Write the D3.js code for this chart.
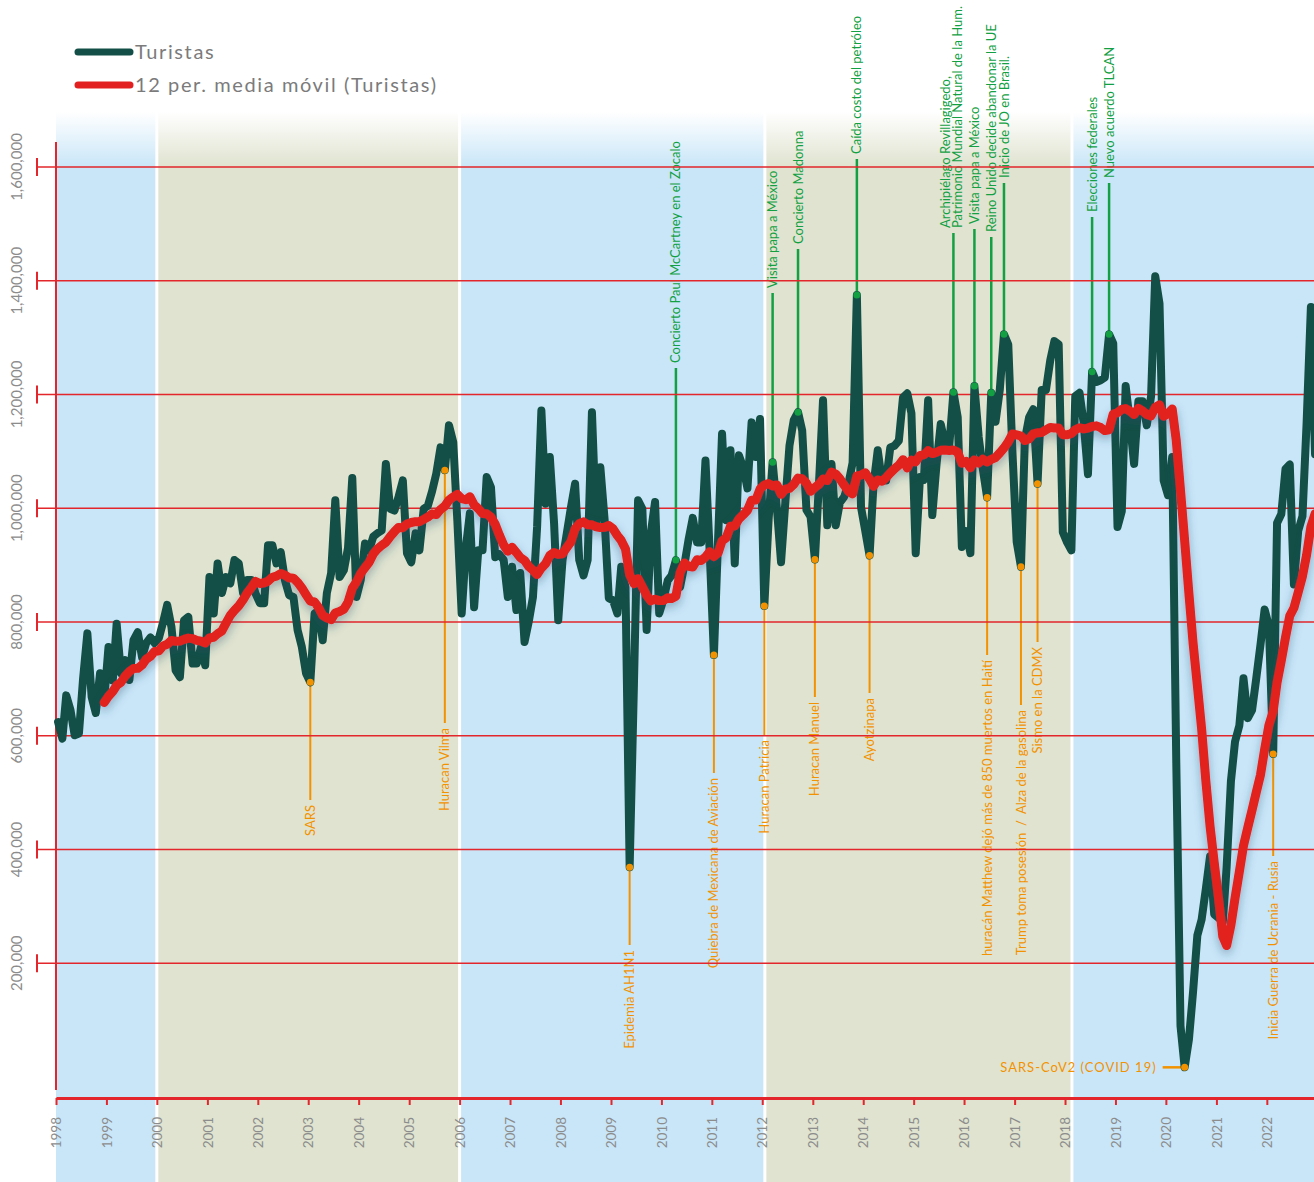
<!DOCTYPE html>
<html>
<head>
<meta charset="utf-8">
<script src="https://cdn.jsdelivr.net/npm/d3@7"></script>
<style>
  body { margin: 0; background: #fff; }
  svg { display: block; font-family: Lato, "Open Sans", sans-serif; }
</style>
</head>
<body>
<svg id="chart" width="1314" height="1182"></svg>
<script>
// ---- data (miles de turistas por mes, ene 1998 - dic 2022) ----
var startMonth = "1998-01";
var turistas = [
  624, 595, 671, 645, 601, 604, 700, 780, 668, 640, 710, 663,      // 1998
  756, 697, 797, 710, 733, 698, 768, 782, 738, 763, 773, 763,      // 1999
  772, 800, 830, 791, 715, 703, 803, 809, 727, 727, 756, 724,      // 2000
  879, 815, 903, 851, 879, 868, 909, 903, 851, 874, 874, 850,      // 2001
  833, 833, 935, 935, 903, 923, 874, 847, 844, 786, 756, 710,      // 2002
  694, 815, 820, 768, 851, 886, 1014, 879, 891, 930, 1053, 844,    // 2003
  874, 938, 926, 950, 956, 961, 1078, 999, 996, 1020, 1049, 921,   // 2004
  905, 956, 926, 999, 1004, 1030, 1061, 1107, 1067, 1146, 1116, 976, // 2005
  815, 932, 991, 826, 926, 926, 1055, 1037, 914, 919, 909, 844,    // 2006
  897, 821, 886, 765, 800, 844, 967, 1172, 1008, 1090, 973, 803,   // 2007
  909, 956, 1000, 1043, 909, 882, 909, 1169, 967, 1072, 979, 842,  // 2008
  838, 815, 897, 861, 369, 690, 1014, 999, 786, 956, 1011, 815,    // 2009
  840, 873, 882, 909, 861, 900, 944, 983, 940, 940, 1084, 926,     // 2010
  742, 950, 1131, 979, 1102, 903, 1093, 1072, 1035, 1151, 1090, 1157, // 2011
  828, 980, 1081, 1000, 905, 1010, 1110, 1155, 1169, 1137, 997, 985,  // 2012
  910, 1050, 1190, 970, 1078, 970, 1010, 1020, 1043, 1080, 1375, 1002, // 2013
  960, 917, 1040, 1102, 1049, 1049, 1107, 1110, 1119, 1195, 1202, 1167, // 2014
  921, 1055, 1050, 1190, 988, 1078, 1148, 1114, 1110, 1204, 1160, 932,  // 2015
  960, 921, 1215, 1125, 1069, 1019, 1203, 1152, 1209, 1306, 1288, 1100, // 2016
  941, 897, 1120, 1160, 1174, 1043, 1208, 1208, 1260, 1294, 1288, 958,  // 2017
  940, 926, 1197, 1203, 1150, 1060, 1240, 1222, 1225, 1230, 1306, 1290, // 2018
  967, 995, 1215, 1150, 1078, 1188, 1188, 1146, 1197, 1408, 1360, 1049, // 2019
  1023, 1090, 560, 90, 17, 66, 150, 249, 277, 330, 388, 286,       // 2020
  280, 272, 369, 520, 590, 618, 701, 631, 645, 700, 760, 822,      // 2021
  793, 568, 974, 990, 1069, 1077, 866, 960, 986, 1150, 1354, 1095  // 2022
];
var yTicks = [200000, 400000, 600000, 800000, 1000000, 1200000, 1400000, 1600000];
var bandBreaks = ["1998-01-01", "2000-01-01", "2006-01-01", "2012-01-20", "2018-02-20", "2023-01-01"];
var bandColors = ["#c9e6f8", "#dfe3cf", "#c9e6f8", "#dfe3cf", "#c9e6f8"];

// eventos arriba (verde) y abajo (naranja)
var eventsTop = [
  { month: "2010-04", text: ["Concierto Paul McCartney en el Zocalo"] },
  { month: "2012-03", text: ["Visita papa a México"] },
  { month: "2012-09", text: ["Concierto Madonna"] },
  { month: "2013-11", text: ["Caída costo del petróleo"] },
  { month: "2015-10", text: ["Archipiélago Revillagigedo,", "Patrimonio Mundial Natural de la Hum."] },
  { month: "2016-03", text: ["Visita papa a México"] },
  { month: "2016-07", text: ["Reino Unido decide abandonar la UE"] },
  { month: "2016-10", text: ["Inicio de JO en Brasil."] },
  { month: "2018-07", text: ["Elecciones federales"] },
  { month: "2018-11", text: ["Nuevo acuerdo TLCAN"] }
];
var eventsBottom = [
  { month: "2003-01", text: "SARS" },
  { month: "2005-09", text: "Huracan Vilma" },
  { month: "2009-05", text: "Epidemia AH1N1" },
  { month: "2011-01", text: "Quiebra de Mexicana de Aviación" },
  { month: "2012-01", text: "Huracan Patricia" },
  { month: "2013-01", text: "Huracan Manuel" },
  { month: "2014-02", text: "Ayotzinapa" },
  { month: "2016-06", text: "huracán Matthew dejó más de 850 muertos en Haití" },
  { month: "2017-02", text: "Trump toma posesión  /  Alza de la gasolina" },
  { month: "2017-06", text: "Sismo en la CDMX" },
  { month: "2022-02", text: "Inicia Guerra de Ucrania - Rusia" }
];
var eventCovid = { month: "2020-05", text: "SARS-CoV2 (COVID 19)" };

// ---- layout ----
var width = 1314, height = 1182;
var left = 56, axisY = 1098, bandTop = 112;
var topLabelY = [368, 293, 249, 159, 233, 229, 237, 183, 217, 183];      // fin de la guía
var bottomLabelY = [800, 723, 945, 773, 735, 697, 693, 655, 705, 642, 856];
var green = "#12a043", orange = "#f39200", gridRed = "#e2262b";

var parseMonth = d3.timeParse("%Y-%m");
var parseDay = d3.timeParse("%Y-%m-%d");
var t0 = parseMonth(startMonth);
var midMonth = function (d) { return d3.timeDay.offset(d, 15); };

var data = turistas.map(function (v, i) {
  return { date: midMonth(d3.timeMonth.offset(t0, i)), value: v * 1000 };
});
// media movil de 12 periodos
var ma = [];
for (var i = 11; i < data.length; i++) {
  ma.push({ date: data[i].date, value: d3.mean(data.slice(i - 11, i + 1), function (d) { return d.value; }) });
}

var x = d3.scaleTime()
  .domain([parseDay("1998-01-01"), parseDay("2023-01-01")])
  .range([left, left + 25 * 50.45]);
var y = d3.scaleLinear().domain([0, 1600000]).range([1077, 167]);

var svg = d3.select("#chart");
var defs = svg.append("defs");
var fade = defs.append("linearGradient").attr("id", "fade").attr("x1", 0).attr("x2", 0).attr("y1", 0).attr("y2", 1);
fade.append("stop").attr("offset", "0%").attr("stop-color", "#fff").attr("stop-opacity", 1);
fade.append("stop").attr("offset", "100%").attr("stop-color", "#fff").attr("stop-opacity", 0);
defs.append("filter").attr("id", "shadow").attr("x", "-10%").attr("y", "-10%").attr("width", "120%").attr("height", "130%")
  .append("feDropShadow").attr("dx", 0).attr("dy", 4).attr("stdDeviation", 5)
  .attr("flood-color", "#2c4a6a").attr("flood-opacity", 0.4);

// bandas de fondo
var bands = d3.range(bandColors.length).map(function (i) {
  return { x0: x(parseDay(bandBreaks[i])), x1: x(parseDay(bandBreaks[i + 1])), color: bandColors[i] };
});
svg.append("g").selectAll("rect").data(bands).enter().append("rect")
  .attr("x", function (d) { return d.x0; })
  .attr("y", bandTop)
  .attr("width", function (d) { return d.x1 - d.x0; })
  .attr("height", height - bandTop)
  .attr("fill", function (d) { return d.color; });
svg.append("rect").attr("x", left).attr("y", bandTop).attr("width", width - left).attr("height", 55).attr("fill", "url(#fade)");
svg.append("g").selectAll("line").data(bands.slice(1)).enter().append("line")
  .attr("x1", function (d) { return d.x0; }).attr("x2", function (d) { return d.x0; })
  .attr("y1", bandTop).attr("y2", height)
  .attr("stroke", "#fff").attr("stroke-width", 3);

// anotaciones
function valueAt(m) { return turistas[d3.timeMonth.count(t0, parseMonth(m))] * 1000; }
function xAt(m) { return x(midMonth(parseMonth(m))); }

var ann = svg.append("g").attr("font-size", 13);
eventsTop.forEach(function (e, i) {
  var ex = xAt(e.month), ey = y(valueAt(e.month)), ly = topLabelY[i];
  ann.append("line").attr("x1", ex).attr("x2", ex).attr("y1", ey).attr("y2", ly)
    .attr("stroke", green).attr("stroke-width", 2.5);
  var n = e.text.length;
  e.text.forEach(function (t, k) {
    ann.append("text")
      .attr("transform", "translate(" + ex + "," + (ly - 5) + ") rotate(-90)")
      .attr("dy", (0.35 + (k - (n - 1) / 2) * 0.9 - (n - 1) * 0.15) + "em")
      .attr("fill", green)
      .text(t);
  });
});
eventsBottom.forEach(function (e, i) {
  var ex = xAt(e.month), ey = y(valueAt(e.month)), ly = bottomLabelY[i];
  ann.append("line").attr("x1", ex).attr("x2", ex).attr("y1", ey).attr("y2", ly)
    .attr("stroke", orange).attr("stroke-width", 2);
  ann.append("text")
    .attr("transform", "translate(" + ex + "," + (ly + 5) + ") rotate(-90)")
    .attr("dy", "0.35em").attr("text-anchor", "end")
    .style("white-space", "pre")
    .attr("fill", orange)
    .text(e.text);
});
var cx = xAt(eventCovid.month), cy = y(valueAt(eventCovid.month));
ann.append("line").attr("x1", cx - 22).attr("x2", cx).attr("y1", cy).attr("y2", cy)
  .attr("stroke", orange).attr("stroke-width", 2.5);
ann.append("text").attr("x", cx - 28).attr("y", cy).attr("dy", "0.35em")
  .attr("text-anchor", "end").attr("letter-spacing", 1).attr("fill", orange)
  .text(eventCovid.text);

// cuadricula y eje Y
var grid = svg.append("g");
grid.selectAll("line.h").data(yTicks).enter().append("line")
  .attr("x1", 37).attr("x2", width)
  .attr("y1", function (d) { return y(d); }).attr("y2", function (d) { return y(d); })
  .attr("stroke", gridRed).attr("stroke-width", 1.6);
grid.selectAll("line.c").data(yTicks).enter().append("line")
  .attr("x1", 37).attr("x2", 37)
  .attr("y1", function (d) { return y(d) - 9; }).attr("y2", function (d) { return y(d) + 9; })
  .attr("stroke", gridRed).attr("stroke-width", 2);
grid.selectAll("text").data(yTicks).enter().append("text")
  .attr("transform", function (d) { return "translate(17," + y(d) + ") rotate(-90)"; })
  .attr("dy", "0.35em").attr("text-anchor", "middle")
  .attr("font-size", 15).attr("fill", "#8c8c8c")
  .text(d3.format(","));
grid.append("line").attr("x1", left).attr("x2", left).attr("y1", 142).attr("y2", axisY - 8)
  .attr("stroke", gridRed).attr("stroke-width", 2);

// eje X
var yearTicks = d3.timeYear.range(parseDay("1998-01-01"), parseDay("2023-01-01"));
var xAxis = svg.append("g").attr("transform", "translate(0," + axisY + ")")
  .call(d3.axisBottom(x).tickValues(yearTicks).tickFormat(d3.timeFormat("%Y")).tickSize(7).tickSizeOuter(0));
xAxis.select(".domain").attr("stroke", gridRed).attr("stroke-width", 3);
xAxis.selectAll(".tick line").attr("stroke", gridRed).attr("stroke-width", 2);
xAxis.selectAll(".tick text")
  .attr("transform", "rotate(-90)").attr("x", -19).attr("y", 0).attr("dy", "0.35em")
  .attr("text-anchor", "end").attr("font-size", 13.5).attr("font-family", "Lato, sans-serif")
  .attr("fill", "#8c8c8c");

// series
var line = d3.line().x(function (d) { return x(d.date); }).y(function (d) { return y(d.value); });
svg.append("path").datum(data).attr("d", line)
  .attr("fill", "none").attr("stroke", "#134f46").attr("stroke-width", 8)
  .attr("stroke-linejoin", "round").attr("stroke-linecap", "round");
svg.append("path").datum(ma).attr("d", line)
  .attr("fill", "none").attr("stroke", "#e2201f").attr("stroke-width", 9)
  .attr("stroke-linejoin", "round").attr("stroke-linecap", "round")
  .attr("filter", "url(#shadow)");

// puntos de eventos
var dots = eventsTop.map(function (e) { return { m: e.month, c: green }; })
  .concat(eventsBottom.map(function (e) { return { m: e.month, c: orange }; }))
  .concat([{ m: eventCovid.month, c: orange }]);
svg.append("g").selectAll("circle").data(dots).enter().append("circle")
  .attr("cx", function (d) { return xAt(d.m); })
  .attr("cy", function (d) { return y(valueAt(d.m)); })
  .attr("r", 3.5).attr("fill", function (d) { return d.c; });

// leyenda
var legend = [{ label: "Turistas", color: "#134f46" }, { label: "12 per. media móvil (Turistas)", color: "#e2201f" }];
var lg = svg.append("g").selectAll("g").data(legend).enter().append("g")
  .attr("transform", function (d, i) { return "translate(0," + (52 + i * 33) + ")"; });
lg.append("line").attr("x1", 78).attr("x2", 130).attr("stroke", function (d) { return d.color; })
  .attr("stroke-width", 7).attr("stroke-linecap", "round");
lg.append("text").attr("x", 135).attr("dy", "0.35em").attr("font-size", 20).attr("letter-spacing", 1.6)
  .attr("fill", "#7b7b7b")
  .text(function (d) { return d.label; });
</script>
</body>
</html>
